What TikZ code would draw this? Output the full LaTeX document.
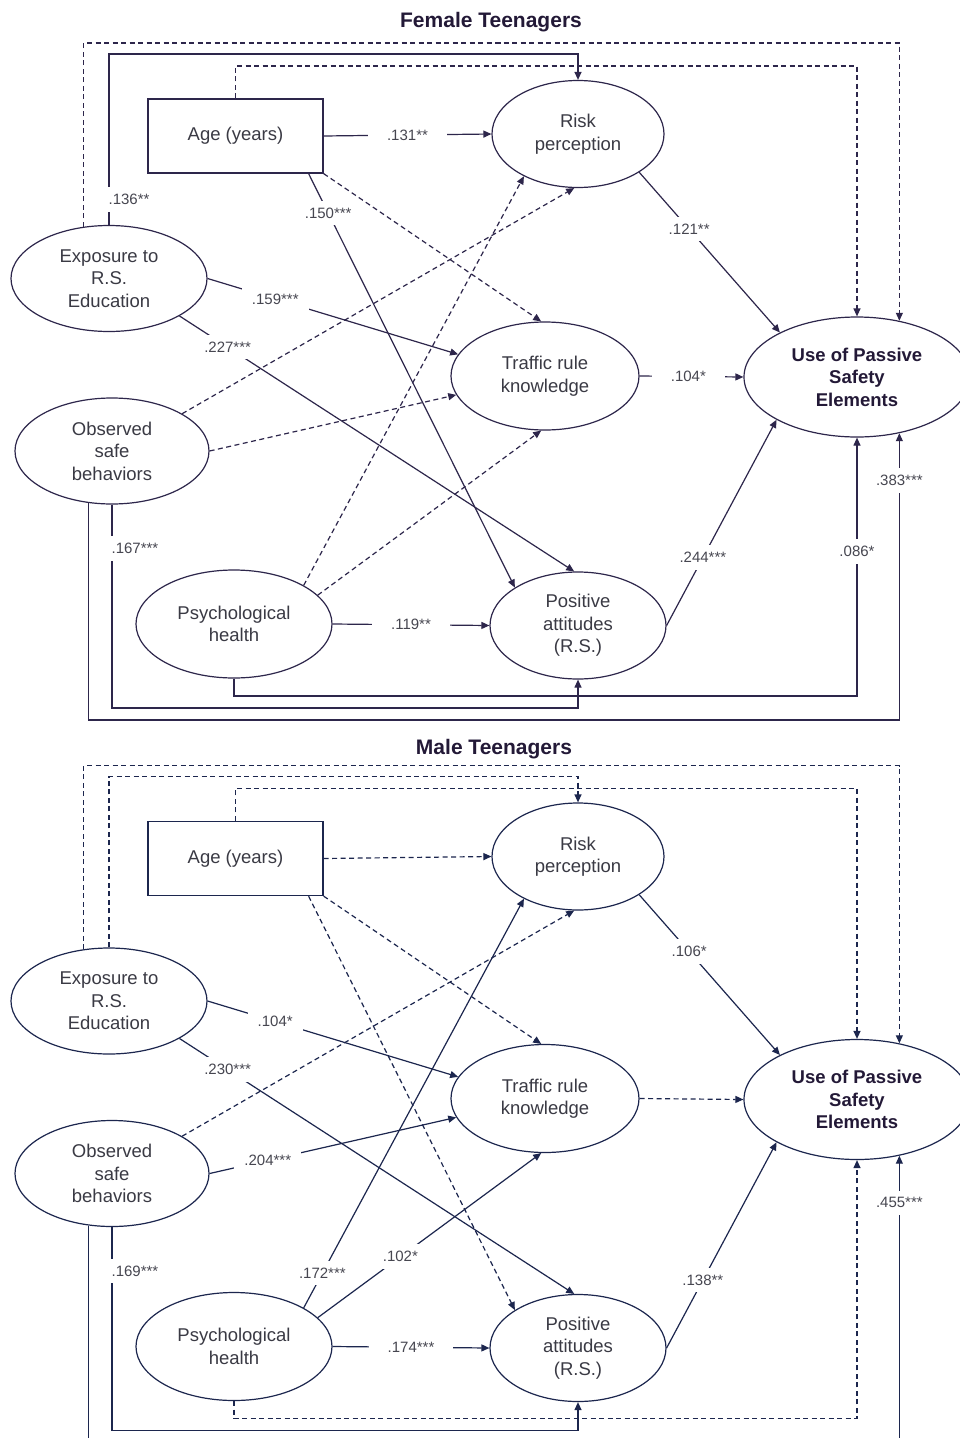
\documentclass[tikz,border=0pt]{standalone}
\usepackage{fontspec}
\setmainfont{Liberation Sans}
\usetikzlibrary{shapes.geometric,arrows.meta,calc}
\definecolor{lcF}{RGB}{45,38,75}
\definecolor{lcM}{RGB}{28,38,78}
\definecolor{txc}{RGB}{58,58,68}
\definecolor{labc}{RGB}{70,70,80}
\definecolor{ttc}{RGB}{35,25,55}
\colorlet{lc}{lcF}
\tikzset{
  ln/.style={draw=lc, line width=1.2pt},
  sol/.style={ln, -{Triangle[length=8pt,width=7pt]}},
  dsh/.style={sol, dash pattern=on 5pt off 3.5pt},
  lab/.style={fill=white, inner xsep=10pt, inner ysep=7pt, text=labc, font=\fontsize{15}{18}\selectfont},
  labh/.style={lab, inner xsep=19pt},
  labv/.style={lab, inner xsep=2pt, anchor=west, xshift=-3pt},
  ell/.style={ellipse, draw=lc, line width=1.2pt, inner sep=0pt, align=center, text=txc, font=\fontsize{18.5}{22.5}\selectfont},
  ellb/.style={ell, text=ttc, font=\bfseries\fontsize{18.5}{22.5}\selectfont},
  boxn/.style={rectangle, draw=lc, line width=1.2pt, minimum width=175pt, minimum height=74pt, inner sep=0pt, text=txc, font=\fontsize{18.5}{22.5}\selectfont},
  ttl/.style={font=\bfseries\fontsize{21}{24}\selectfont, text=ttc},
}
\begin{document}
\begin{tikzpicture}[x=1pt,y=-1pt]
\useasboundingbox (0,0) rectangle (960,1438);
\clip (0,0) rectangle (960,1438);
\fill[white] (0,0) rectangle (960,1438);

% ================= FEMALE =================
\colorlet{lc}{lcF}
\node[ttl] (tF) at (491,22) {Female Teenagers};
\node[boxn] (fAge) at (235.5,136) {Age (years)};
\node[ell, minimum width=172pt, minimum height=107pt] (fRisk) at (578,134) {Risk\\perception};
\node[ell, minimum width=196pt, minimum height=106pt] (fExp) at (109,278.5) {Exposure to\\R.S.\\Education};
\node[ell, minimum width=188pt, minimum height=108pt] (fTrk) at (545,376) {Traffic rule\\knowledge};
\node[ell, minimum width=194pt, minimum height=106pt] (fObs) at (112,451) {Observed\\safe\\behaviors};
\node[ellb, minimum width=226pt, minimum height=120pt] (fUse) at (857,377) {Use of Passive\\Safety\\Elements};
\node[ell, minimum width=196pt, minimum height=108pt] (fPsy) at (234,624) {Psychological\\health};
\node[ell, minimum width=176pt, minimum height=107pt] (fPos) at (578,625.5) {Positive\\attitudes\\(R.S.)};
\coordinate (fL1) at (500,43);
\coordinate (fL2) at (500,54);
\coordinate (fL3) at (500,66);
\coordinate (fB1) at (500,696);
\coordinate (fB2) at (500,708);
\coordinate (fB3) at (500,720);

\draw[sol] (fAge.east) -- node[labh]{.131**} (fRisk.west);
\draw[dsh] (fAge.south east) -- (fTrk.94);
\draw[sol] ([xshift=-15pt]fAge.south east) -- node[lab,pos=0.095]{.150***} (fPos.149);
\draw[dsh] (fAge.north) |- (fL3) -| (fUse.north);
\draw[sol] (fExp.north) -- node[labv,pos=0.149]{.136**} (fExp.north |- fL2) -| (fRisk.north);
\draw[dsh] (fExp.116) |- (fL1) -| (fUse.53);
\draw[sol] (fExp.east) -- node[lab,pos=0.27]{.159***} (fTrk.166);
\draw[sol] (fExp.332) -- node[lab,pos=0.122]{.227***} (fPos.94);
\draw[dsh] (fObs.28.5) -- (fRisk.266);
\draw[dsh] (fObs.east) -- (fTrk.192);
\draw[sol] (fObs.south) -- node[labv,pos=0.216]{.167***} (fObs.south |- fB2) -| (fPos.south);
\draw[sol] (fObs.246) |- (fB3) -- (fB3 -| fUse.307) -- node[lab,pos=0.836]{.383***} (fUse.307);
\draw[dsh] (fPsy.29) -- (fRisk.218);
\draw[dsh] (fPsy.19) -- (fTrk.266);
\draw[sol] (fPsy.east) -- node[labh]{.119**} (fPos.west);
\draw[sol] (fPsy.south) |- (fB1) -- (fB1 -| fUse.south) -- node[lab,pos=0.56]{.086*} (fUse.south);
\draw[sol] (fRisk.328.6) -- node[lab,pos=0.355]{.121**} (fUse.150.9);
\draw[sol] (fTrk.east) -- node[labh,pos=0.47]{.104*} (fUse.west);
\draw[sol] (fPos.east) -- node[lab,pos=0.33]{.244***} (fUse.208.8);

% ================= MALE =================
\colorlet{lc}{lcM}
\node[ttl] (tM) at (494,749) {Male Teenagers};
\begin{scope}[shift={(0,722.5)}]
\node[boxn] (mAge) at (235.5,136) {Age (years)};
\node[ell, minimum width=172pt, minimum height=107pt] (mRisk) at (578,134) {Risk\\perception};
\node[ell, minimum width=196pt, minimum height=106pt] (mExp) at (109,278.5) {Exposure to\\R.S.\\Education};
\node[ell, minimum width=188pt, minimum height=108pt] (mTrk) at (545,376) {Traffic rule\\knowledge};
\node[ell, minimum width=194pt, minimum height=106pt] (mObs) at (112,451) {Observed\\safe\\behaviors};
\node[ellb, minimum width=226pt, minimum height=120pt] (mUse) at (857,377) {Use of Passive\\Safety\\Elements};
\node[ell, minimum width=196pt, minimum height=108pt] (mPsy) at (234,624) {Psychological\\health};
\node[ell, minimum width=176pt, minimum height=107pt] (mPos) at (578,625.5) {Positive\\attitudes\\(R.S.)};
\coordinate (mL1) at (500,43);
\coordinate (mL2) at (500,54);
\coordinate (mL3) at (500,66);
\coordinate (mB1) at (500,696);
\coordinate (mB2) at (500,708);
\coordinate (mB3) at (500,720);
\end{scope}

\draw[dsh] (mAge.east) -- (mRisk.west);
\draw[dsh] (mAge.south east) -- (mTrk.94);
\draw[dsh] ([xshift=-15pt]mAge.south east) -- (mPos.149);
\draw[dsh] (mAge.north) |- (mL3) -| (mUse.north);
\draw[dsh] (mExp.north) |- (mL2) -| (mRisk.north);
\draw[dsh] (mExp.116) |- (mL1) -| (mUse.53);
\draw[sol] (mExp.east) -- node[lab,pos=0.27]{.104*} (mTrk.166);
\draw[sol] (mExp.332) -- node[lab,pos=0.122]{.230***} (mPos.94);
\draw[dsh] (mObs.28.5) -- (mRisk.266);
\draw[sol] (mObs.east) -- node[lab,pos=0.236]{.204***} (mTrk.192);
\draw[sol] (mObs.south) -- node[labv,pos=0.216]{.169***} (mObs.south |- mB2) -| (mPos.south);
\draw[sol] (mObs.246) |- (mB3) -- (mB3 -| mUse.307) -- node[lab,pos=0.836]{.455***} (mUse.307);
\draw[sol] (mPsy.29) -- node[lab,pos=0.085]{.172***} (mRisk.218);
\draw[sol] (mPsy.19) -- node[lab,pos=0.37]{.102*} (mTrk.266);
\draw[sol] (mPsy.east) -- node[labh]{.174***} (mPos.west);
\draw[dsh] (mPsy.south) |- (mB1) -| (mUse.south);
\draw[sol] (mRisk.328.6) -- node[lab,pos=0.355]{.106*} (mUse.150.9);
\draw[dsh] (mTrk.east) -- (mUse.west);
\draw[sol] (mPos.east) -- node[lab,pos=0.33]{.138**} (mUse.208.8);
\end{tikzpicture}
\end{document}
